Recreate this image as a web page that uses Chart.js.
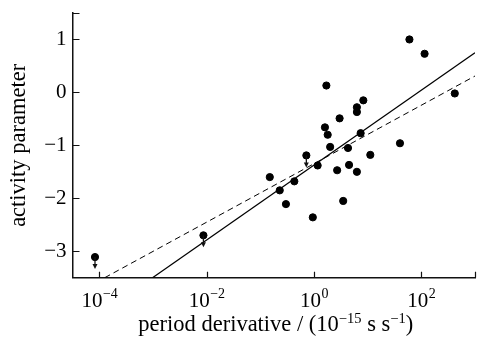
<!DOCTYPE html>
<html>
<head>
<meta charset="utf-8">
<script src="https://cdn.jsdelivr.net/npm/chart.js@4.4.1/dist/chart.umd.min.js"></script>
<style>
  html, body { margin: 0; padding: 0; background: #fff; }
  #wrap { width: 481px; height: 347px; }
</style>
</head>
<body>
<div id="wrap"><canvas id="activity-chart"></canvas></div>
<script>
// pulsars: period derivative (1e-15 s/s) vs activity parameter
const pdotValues = [0.15, 0.23, 0.30, 0.43, 0.95, 60, 115, 420, 1.7, 8.3, 6.3, 6.3, 3.0, 1.6, 1.8, 7.4, 2.0, 4.3, 40, 11.2, 1.17, 4.5, 2.7, 6.3, 3.5];
const activityValues = [-1.60, -1.85, -2.11, -1.68, -2.36, 1.00, 0.73, -0.02, 0.13, -0.15, -0.28, -0.37, -0.49, -0.66, -0.80, -0.77, -1.03, -1.05, -0.96, -1.18, -1.38, -1.37, -1.47, -1.50, -2.05];

// upper limits (drawn with a down arrow)
const limitPdot = [8.3e-5, 8.7e-3, 0.72];
const limitActivity = [-3.11, -2.70, -1.19];

// fitted lines, end points
const solidFitX = [9.8e-4, 1000];
const solidFitY = [-3.5, 0.75];
const dashedFitX = [1.26e-4, 1000];
const dashedFitY = [-3.5, 0.31];

const xTickValues = [1e-4, 1e-2, 1, 1e2];
const xTickExponents = ['\u22124', '\u22122', '0', '2'];
const yTickValues = [-3, -2, -1, 0, 1];

const SERIF = "'Liberation Serif', 'DejaVu Serif', serif";

function toPoints(xs, ys) {
  return xs.map((x, i) => ({ x: x, y: ys[i] }));
}

// inward ticks, x tick labels with superscripts, x title, limit arrows
const axisExtras = {
  id: 'axisExtras',
  afterDatasetsDraw(chart) {
    const ctx = chart.ctx;
    const xs = chart.scales.x, ys = chart.scales.y;
    const area = chart.chartArea;
    ctx.save();
    ctx.strokeStyle = '#111';
    ctx.lineWidth = 1.3;

    // arrows under upper limits
    ctx.fillStyle = '#111';
    limitPdot.forEach((v, i) => {
      const px = xs.getPixelForValue(v);
      const py = ys.getPixelForValue(limitActivity[i]);
      ctx.beginPath();
      ctx.moveTo(px, py);
      ctx.lineTo(px, py + 9);
      ctx.stroke();
      ctx.beginPath();
      ctx.moveTo(px - 2.5, py + 7);
      ctx.lineTo(px + 2.5, py + 7);
      ctx.lineTo(px, py + 12);
      ctx.closePath();
      ctx.fill();
    });

    // ticks pointing into the plot
    ctx.lineWidth = 1.2;
    ctx.beginPath();
    xTickValues.concat([xs.max]).forEach(v => {
      const px = Math.round(xs.getPixelForValue(v)) + 0.5;
      ctx.moveTo(px, area.bottom);
      ctx.lineTo(px, area.bottom - 6);
    });
    yTickValues.concat([ys.max]).forEach(v => {
      const py = Math.round(ys.getPixelForValue(v)) + 0.5;
      ctx.moveTo(area.left, py);
      ctx.lineTo(area.left + 7, py);
    });
    ctx.stroke();

    // x tick labels: 10 with a raised exponent
    ctx.fillStyle = '#000';
    ctx.textBaseline = 'alphabetic';
    ctx.textAlign = 'left';
    const base = '21px ' + SERIF, sup = '14px ' + SERIF;
    xTickValues.forEach((v, i) => {
      const px = xs.getPixelForValue(v);
      ctx.font = base;
      const w1 = ctx.measureText('10').width;
      ctx.font = sup;
      const w2 = ctx.measureText(xTickExponents[i]).width;
      const x0 = px - (w1 + w2) / 2;
      ctx.font = base;
      ctx.fillText('10', x0, 307);
      ctx.font = sup;
      ctx.fillText(xTickExponents[i], x0 + w1 + 0.5, 298);
    });

    // x axis title
    const parts = [
      ['period derivative / (10', '22.5px ' + SERIF, 0],
      ['\u221215', '14.5px ' + SERIF, -8],
      [' s s', '22.5px ' + SERIF, 0],
      ['\u22121', '14.5px ' + SERIF, -8],
      [')', '22.5px ' + SERIF, 0]
    ];
    let total = 0;
    parts.forEach(p => { ctx.font = p[1]; total += ctx.measureText(p[0]).width; });
    let tx = (area.left + area.right) / 2 + 2 - total / 2;
    parts.forEach(p => {
      ctx.font = p[1];
      ctx.fillText(p[0], tx, 331 + p[2]);
      tx += ctx.measureText(p[0]).width;
    });
    ctx.restore();
  }
};

new Chart(document.getElementById('activity-chart'), {
  type: 'scatter',
  data: {
    datasets: [{
      label: 'pulsars',
      data: toPoints(pdotValues, activityValues),
      backgroundColor: '#000',
      borderColor: '#000',
      pointRadius: 3.6,
      pointHoverRadius: 3.6
    }, {
      label: 'upper limits',
      data: toPoints(limitPdot, limitActivity),
      backgroundColor: '#000',
      borderColor: '#000',
      pointRadius: 3.6,
      pointHoverRadius: 3.6
    }, {
      type: 'line',
      label: 'fit',
      data: toPoints(solidFitX, solidFitY),
      borderColor: '#000',
      borderWidth: 1.3,
      pointRadius: 0,
      fill: false
    }, {
      type: 'line',
      label: 'fit (dashed)',
      data: toPoints(dashedFitX, dashedFitY),
      borderColor: '#000',
      borderWidth: 1,
      borderDash: [6, 4],
      pointRadius: 0,
      fill: false
    }]
  },
  options: {
    responsive: true,
    maintainAspectRatio: false,
    animation: false,
    events: [],
    layout: { padding: { top: 13, right: 6, left: 0, bottom: 0 } },
    plugins: {
      legend: { display: false },
      tooltip: { enabled: false }
    },
    scales: {
      x: {
        type: 'logarithmic',
        min: Math.pow(10, -4.5),
        max: 1000,
        grid: { display: false, drawTicks: false },
        border: { display: true, color: '#111', width: 1.5 },
        ticks: { display: false },
        afterFit(scale) {
          scale.height = 69.3;
          scale.paddingLeft = 0;
          scale.paddingRight = 0;
        }
      },
      y: {
        type: 'linear',
        min: -3.5,
        max: 1.5,
        grid: { display: false, drawTicks: false },
        border: { display: true, color: '#111', width: 1.5 },
        afterBuildTicks(scale) { scale.ticks = yTickValues.map(v => ({ value: v })); },
        ticks: {
          color: '#000',
          padding: 6,
          font: { family: SERIF, size: 21 },
          callback: v => String(v).replace('-', '\u2212')
        },
        title: {
          display: true,
          text: 'activity parameter',
          color: '#000',
          font: { family: SERIF, size: 22.5 },
          padding: { top: 6, bottom: 0 }
        },
        afterFit(scale) {
          scale.width = 72.5;
          scale.paddingTop = 0;
          scale.paddingBottom = 0;
        }
      }
    }
  },
  plugins: [axisExtras]
});
</script>
</body>
</html>
